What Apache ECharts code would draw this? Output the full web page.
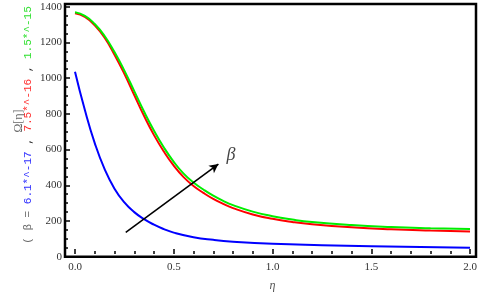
<!DOCTYPE html>
<html><head><meta charset="utf-8">
<script src="https://cdn.jsdelivr.net/npm/echarts@6/dist/echarts.min.js"></script>
<style>html,body{margin:0;padding:0;background:#fff}#c{width:480px;height:297px}</style>
</head><body><div id="c"></div>
<script>
// data
const etaBlue  = [0, 0.05, 0.1, 0.15, 0.2, 0.25, 0.3, 0.35, 0.4, 0.45, 0.5, 0.6, 0.7, 0.8, 1.0, 1.25, 1.5, 2.0];
const omegaBlue = [1032, 815, 628, 480, 370, 292, 237, 197, 166, 141, 121, 95, 80, 70, 58, 50, 44, 36];
const etaRG = [0, 0.05, 0.1, 0.15, 0.2, 0.25, 0.3, 0.35, 0.4, 0.45, 0.5, 0.55, 0.6, 0.65, 0.7, 0.75, 0.8, 0.9, 1.0, 1.1, 1.2, 1.4, 1.6, 1.8, 2.0];
const omegaRed   = [1363, 1342, 1294, 1224, 1128, 1020, 900, 781, 673, 580, 500, 435, 385, 346, 312, 284, 260, 224, 199, 181, 168, 151, 140, 133, 128];
const omegaGreen = [1368, 1348, 1302, 1234, 1143, 1038, 922, 805, 698, 603, 522, 455, 405, 365, 330, 301, 277, 240, 214, 195, 181, 164, 153, 146, 141];
const arrowFrom = [0.257, 122];
const arrowTo = [0.726, 509];
const betaPos = [0.79, 561];

const zip = (a, b) => a.map((v, i) => [v, b[i]]);
const serif = 'Liberation Serif';
const tickStyle = { color: '#000', width: 1.5 };

const chart = echarts.init(document.getElementById('c'), null, { renderer: 'canvas' });
chart.setOption({
  animation: false,
  grid: [
    { left: 75, right: 10, top: 6.7, bottom: 40.3 },
    { left: 65, right: 4, top: 6.7, bottom: 40.3 }
  ],
  xAxis: [
    {
      gridIndex: 0, type: 'value', min: 0, max: 2, interval: 0.5,
      axisLine: { show: false },
      axisTick: { show: true, inside: true, length: 5, lineStyle: tickStyle },
      minorTick: { show: true, splitNumber: 5, length: 3, lineStyle: tickStyle },
      axisLabel: { formatter: v => v.toFixed(1), color: '#333', fontFamily: serif, fontSize: 11, margin: 8 },
      splitLine: { show: false },
      name: 'η', nameLocation: 'middle', nameGap: 26,
      nameTextStyle: { fontFamily: serif, fontStyle: 'italic', fontSize: 12, color: '#555' }
    },
    { gridIndex: 1, type: 'value', min: 0, max: 1, show: false }
  ],
  yAxis: [
    { gridIndex: 0, type: 'value', min: 0, max: 1400, show: false },
    {
      gridIndex: 1, type: 'value', min: 0, max: 1400, interval: 200,
      axisLine: { show: false },
      axisTick: { show: true, inside: true, length: 5, lineStyle: tickStyle },
      minorTick: { show: true, splitNumber: 4, length: 3, lineStyle: tickStyle },
      axisLabel: { formatter: v => String(v), color: '#333', fontFamily: serif, fontSize: 11, margin: 3 },
      splitLine: { show: false }
    }
  ],
  graphic: [
    {
      type: 'rect', z: 10, silent: true,
      shape: { x: 65, y: 4, width: 411, height: 252.7 },
      style: { fill: 'none', stroke: '#000', lineWidth: 2.5 }
    },
    {
      type: 'text', x: 19, y: 121, rotation: Math.PI / 2,
      style: { text: 'Ω[η]', fill: '#666', font: '12px "Liberation Serif"', textAlign: 'center', textVerticalAlign: 'middle' }
    },
    {
      type: 'text', x: 28, y: 125, rotation: Math.PI / 2,
      style: {
        text: '{g|( β = }{b|6.1*^-17}{k| , }{r|7.5*^-16}{k| , }{n|1.5*^-15}',
        textAlign: 'center', textVerticalAlign: 'middle',
        font: '11px "Liberation Mono"',
        rich: {
          g: { fill: '#666', font: '11px "Liberation Mono"' },
          k: { fill: '#222', font: '11px "Liberation Mono"' },
          b: { fill: '#3030ff', font: '11px "Liberation Mono"' },
          r: { fill: '#ff3030', font: '11px "Liberation Mono"' },
          n: { fill: '#30e030', font: '11px "Liberation Mono"' }
        }
      }
    }
  ],
  series: [
    { type: 'line', xAxisIndex: 0, yAxisIndex: 0, data: zip(etaBlue, omegaBlue), smooth: 0.5, showSymbol: false, lineStyle: { color: '#0000ff', width: 2 }, itemStyle: { color: '#0000ff' }, z: 3 },
    { type: 'line', xAxisIndex: 0, yAxisIndex: 0, data: zip(etaRG, omegaRed), smooth: 0.5, showSymbol: false, lineStyle: { color: '#ff0000', width: 2 }, itemStyle: { color: '#ff0000' }, z: 3 },
    { type: 'line', xAxisIndex: 0, yAxisIndex: 0, data: zip(etaRG, omegaGreen), smooth: 0.5, showSymbol: false, lineStyle: { color: '#00ee00', width: 2 }, itemStyle: { color: '#00ee00' }, z: 4 },
    {
      type: 'scatter', xAxisIndex: 0, yAxisIndex: 0, data: [betaPos], symbolSize: 0, z: 6,
      label: { show: true, position: 'inside', formatter: 'β', fontFamily: serif, fontStyle: 'italic', fontSize: 18, color: '#111' },
      markLine: {
        silent: true, symbol: ['none', 'arrow'], symbolSize: [7, 9],
        label: { show: false },
        lineStyle: { color: '#000', width: 1.6, type: 'solid' },
        data: [[{ coord: arrowFrom }, { coord: arrowTo }]]
      }
    }
  ]
});
</script></body></html>
